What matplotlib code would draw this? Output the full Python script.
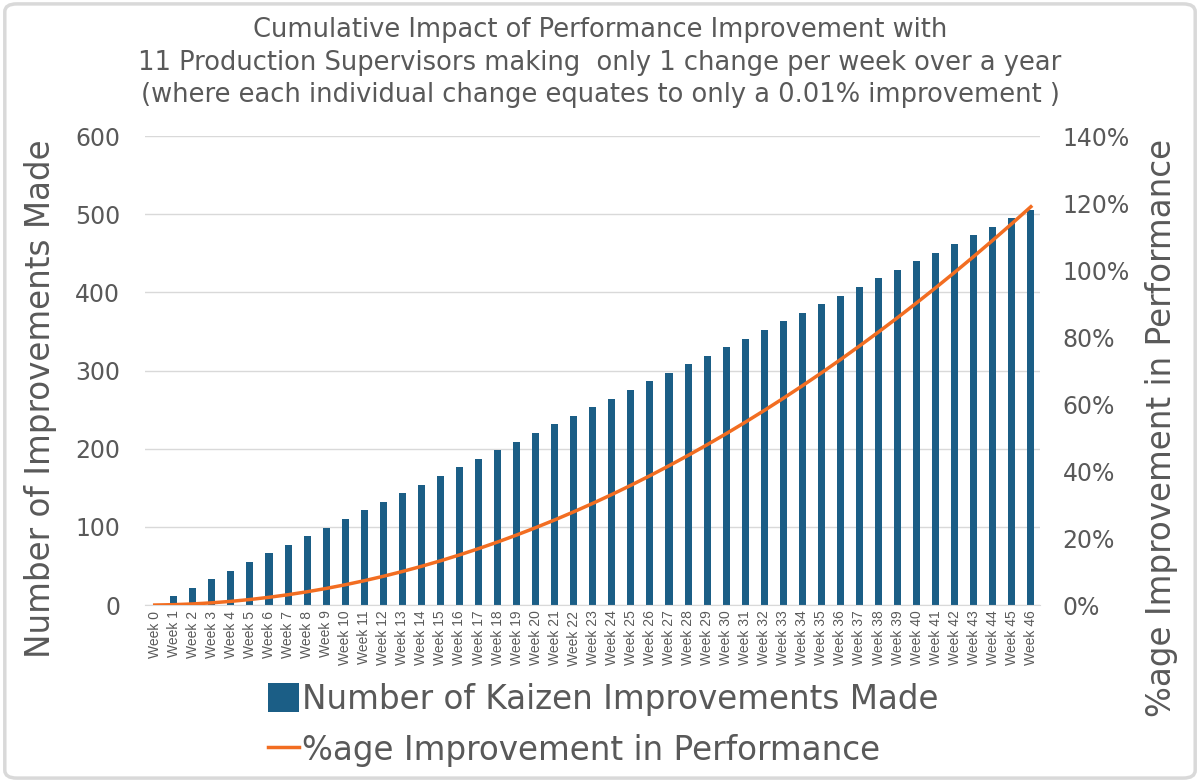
import numpy as np
import matplotlib
matplotlib.use("Agg")
import matplotlib.pyplot as plt
from matplotlib.patches import FancyBboxPatch, Patch
from matplotlib.lines import Line2D

# data
weeks = ['Week %d' % i for i in range(47)]
improvements = [0, 11, 22, 33, 44, 55, 66, 77, 88, 99, 110, 121, 132, 143, 154, 165,
                176, 187, 198, 209, 220, 231, 242, 253, 264, 275, 286, 297, 308, 319,
                330, 341, 352, 363, 374, 385, 396, 407, 418, 429, 440, 451, 462, 473,
                484, 495, 506]
pct_improvement = [0.0, 0.11, 0.33, 0.66, 1.10, 1.65, 2.31, 3.08, 3.96, 4.95, 6.05,
                   7.26, 8.58, 10.01, 11.55, 13.20, 14.96, 16.83, 18.81, 20.90, 23.10,
                   25.41, 27.83, 30.36, 33.00, 35.75, 38.61, 41.58, 44.66, 47.85, 51.15,
                   54.56, 58.08, 61.71, 65.45, 69.30, 73.26, 77.33, 81.51, 85.80, 90.20,
                   94.71, 99.33, 104.06, 108.90, 113.85, 118.91]
left_ticks = [0, 100, 200, 300, 400, 500, 600]
right_ticks = [0, 20, 40, 60, 80, 100, 120, 140]

bar_col = '#1b5e86'
line_col = '#f26d21'
txt_col = '#595959'
grid_col = '#d9d9d9'
main_font = 'DejaVu Sans'

fig = plt.figure(figsize=(12, 7.82), dpi=100)
fig.patches.append(FancyBboxPatch((0.004, 0.005), 0.992, 0.99, boxstyle='round,pad=0,rounding_size=0.01',
                                  transform=fig.transFigure, facecolor='white',
                                  edgecolor='#d9d9d9', lw=2.5, zorder=-1))

ax = fig.add_axes([0.121, 0.2263, 0.746, 0.5997])
x = np.arange(len(weeks))
ax.bar(x, improvements, width=0.37, color=bar_col, zorder=2)
ax.set_xlim(-0.5, len(weeks) - 0.5)
ax.set_ylim(0, 600)
ax.set_yticks(left_ticks)
ax.set_yticklabels([str(v) for v in left_ticks], fontsize=17, color=txt_col, family=main_font)
ax.set_xticks(x)
ax.set_xticklabels(weeks, rotation=90, fontsize=10, color=txt_col, family='Liberation Sans')
ax.tick_params(axis='y', length=0, pad=18)
ax.tick_params(axis='x', length=0, pad=4)
ax.yaxis.grid(True, color=grid_col, lw=1)
ax.set_axisbelow(True)
for s in ['top', 'right', 'left']:
    ax.spines[s].set_visible(False)
ax.spines['bottom'].set_color(grid_col)
ax.set_ylabel('Number of Improvements Made', fontsize=23.5, color=txt_col, family=main_font)
ax.yaxis.set_label_coords(-0.098, 0.439)

ax2 = ax.twinx()
ax2.plot(x, pct_improvement, color=line_col, lw=2.5, zorder=3)
ax2.set_ylim(0, 140)
ax2.set_yticks(right_ticks)
ax2.set_yticklabels(['%d%%' % v for v in right_ticks], fontsize=17, color=txt_col, family=main_font)
ax2.tick_params(axis='y', length=0, pad=16)
for s in ['top', 'right', 'left', 'bottom']:
    ax2.spines[s].set_visible(False)
ax2.set_ylabel('%age Improvement in Performance', fontsize=23.5, color=txt_col, family=main_font)
ax2.yaxis.set_label_coords(1.117, 0.377)

fig.text(0.5, 0.978, 'Cumulative Impact of Performance Improvement with\n'
         '11 Production Supervisors making  only 1 change per week over a year\n'
         '(where each individual change equates to only a 0.01% improvement )',
         ha='center', va='top', fontsize=18.5, color=txt_col, family=main_font, linespacing=1.33)

handles = [Patch(facecolor=bar_col), Line2D([0], [0], color=line_col, lw=2.5)]
labels = ['Number of Kaizen Improvements Made', '%age Improvement in Performance']
fig.legend(handles, labels, loc='upper left', bbox_to_anchor=(0.2233, 0.127), frameon=False,
           prop={'family': main_font, 'size': 23.5}, labelcolor=txt_col,
           handlelength=0.95, handleheight=0.95, handletextpad=0.1, labelspacing=0.55,
           borderaxespad=0, borderpad=0)

fig.savefig('out.png', dpi=100)
